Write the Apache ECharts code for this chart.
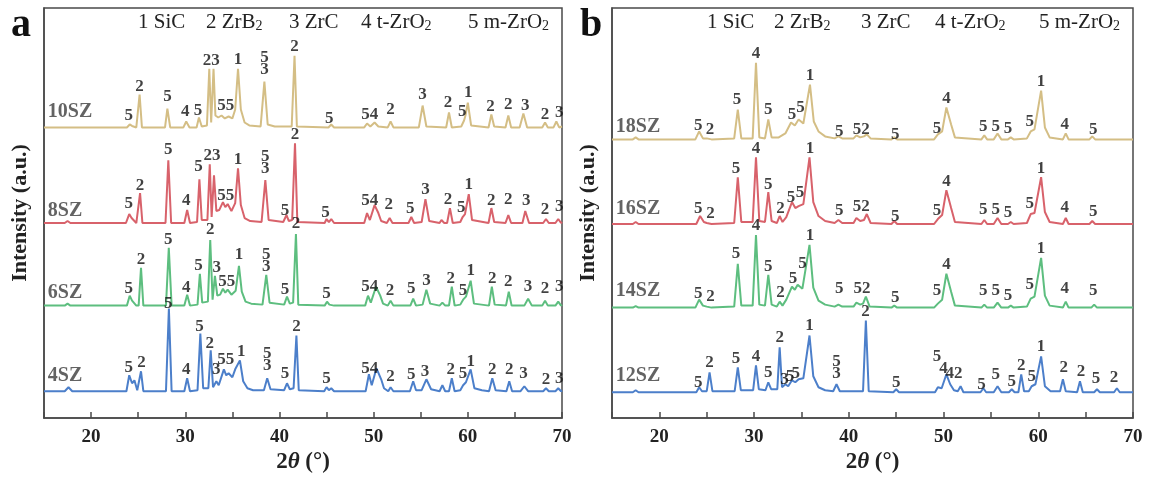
<!DOCTYPE html>
<html>
<head>
<meta charset="utf-8">
<script src="https://cdn.jsdelivr.net/npm/echarts/dist/echarts.min.js"></script>
<style>
  html, body { margin: 0; padding: 0; background: #fff; }
  #chart { width: 1150px; height: 479px; }
</style>
</head>
<body>
<div id="chart"></div>
<script>
// XRD patterns, [2theta, intensity above own baseline] (a.u.)
const xrd10SZ = [[15,0],[17.3,0],[17.5,1.5],[17.8,0],[23.8,0],[24.1,3],[24.35,1.5],[24.55,3],[24.8,0],[24.95,0],[25.15,33],[25.4,0],[27.85,0],[28.1,19],[28.4,0],[29.8,0],[30.1,6],[30.45,0],[31.2,0],[31.45,10],[31.75,1],[32.3,2],[32.55,59],[32.75,5],[33.0,59],[33.2,12],[33.5,10],[33.85,12],[34.2,9],[34.6,11],[35.0,9],[35.3,18],[35.6,59],[35.9,18],[36.3,5],[36.8,2],[38.0,1],[38.4,46],[38.75,3],[39.5,1],[41.3,1],[41.6,72],[41.85,1],[45.2,0],[45.5,3],[45.8,0],[49.0,0],[49.3,4],[49.65,1],[50.1,5],[50.5,1],[51.5,0],[51.8,6],[52.1,0],[54.8,0],[55.2,22],[55.6,1],[57.7,0],[58.0,15],[58.3,0],[59.3,1],[59.6,7],[59.75,12],[60.0,25],[60.35,2],[62.2,0],[62.5,13],[62.8,1],[64.0,0],[64.3,12],[64.6,0],[65.5,0],[65.9,14],[66.3,0],[67.9,0],[68.2,5],[68.5,0],[69.1,0],[69.4,6],[69.7,0],[70,1]];
const xrd8SZ = [[15,0],[17.2,0],[17.5,2],[17.8,0],[23.7,0],[24.05,9],[24.3,5],[24.5,6],[24.8,0],[25.0,0],[25.2,30],[25.45,0],[27.9,0],[28.2,63],[28.5,0],[29.9,0],[30.2,13],[30.5,0],[31.25,1],[31.5,44],[31.75,3],[32.35,3],[32.6,59],[32.8,6],[33.05,48],[33.3,12],[33.6,13],[34.0,21],[34.25,16],[34.5,19],[34.9,12],[35.3,20],[35.6,55],[35.9,18],[36.3,5],[36.9,2],[38.1,1],[38.5,43],[38.85,3],[40.4,1],[40.75,8],[41.0,2],[41.35,3],[41.65,80],[41.9,1],[44.8,0],[45.0,4],[45.25,1],[45.5,4],[45.8,0],[49.0,0],[49.3,10],[49.6,3],[50.1,18],[50.5,10],[50.8,2],[51.4,0],[51.7,5],[52.0,0],[53.7,0],[54.0,6],[54.3,0],[55.1,1],[55.5,24],[55.9,2],[57.0,0],[57.2,3],[57.5,0],[57.8,0],[58.1,15],[58.4,0],[59.2,1],[59.45,6],[59.7,9],[60.1,29],[60.45,3],[62.2,0],[62.5,15],[62.8,1],[64.0,0],[64.3,8],[64.6,0],[65.8,0],[66.1,12],[66.5,0],[68.0,0],[68.3,4],[68.6,0],[69.3,0],[69.6,4],[69.9,0],[70,1]];
const xrd6SZ = [[15,0],[17.2,0],[17.5,2],[17.8,0],[23.8,0],[24.1,10],[24.35,5],[24.5,6],[24.8,0],[25.05,0],[25.3,38],[25.55,0],[27.95,0],[28.25,58],[28.55,0],[29.9,0],[30.2,11],[30.5,0],[31.3,1],[31.55,32],[31.8,3],[32.4,4],[32.65,66],[32.9,6],[33.15,30],[33.4,10],[33.7,11],[34.0,17],[34.25,13],[34.5,16],[34.9,11],[35.35,15],[35.7,40],[36.0,14],[36.4,4],[37.0,2],[38.2,1],[38.6,31],[38.95,3],[40.5,1],[40.8,9],[41.1,2],[41.45,3],[41.75,72],[42.0,1],[44.8,0],[45.05,4],[45.3,1],[45.5,3],[45.8,0],[49.1,0],[49.4,10],[49.7,3],[50.25,19],[50.7,10],[51.0,2],[51.5,0],[51.8,5],[52.1,0],[53.9,0],[54.2,7],[54.5,0],[55.2,1],[55.6,16],[56.0,2],[57.0,0],[57.3,3],[57.6,0],[58.0,0],[58.3,19],[58.6,0],[59.2,1],[59.5,6],[59.8,9],[60.3,25],[60.65,2],[62.25,0],[62.55,19],[62.85,1],[64.05,0],[64.35,14],[64.65,0],[66.0,0],[66.4,7],[66.8,0],[67.9,0],[68.2,5],[68.5,0],[69.3,0],[69.6,4],[69.9,0],[70,1]];
const xrd4SZ = [[15,0],[17.2,0],[17.6,4],[18.0,0],[23.75,0],[24.05,16],[24.35,8],[24.6,11],[24.9,1],[25.05,1],[25.3,20],[25.55,0],[27.95,0],[28.26,83],[28.55,0],[29.9,0],[30.2,13],[30.5,0],[31.3,1],[31.6,58],[31.9,3],[32.45,3],[32.7,41],[32.95,4],[33.3,10],[33.55,6],[34.1,22],[34.35,16],[34.6,18],[35.0,14],[35.3,22],[35.8,31],[36.15,10],[36.6,3],[37.2,1],[38.35,1],[38.7,13],[39.05,2],[40.5,1],[40.8,8],[41.1,2],[41.5,3],[41.8,56],[42.05,1],[44.75,0],[45.0,4],[45.25,1],[45.5,3],[45.8,0],[49.15,0],[49.5,17],[49.8,6],[50.3,23],[50.8,12],[51.1,3],[51.55,0],[51.8,4],[52.1,0],[53.85,0],[54.2,10],[54.5,1],[55.1,1],[55.6,12],[56.1,2],[57.0,0],[57.3,6],[57.6,0],[58.0,0],[58.3,13],[58.6,0],[59.2,1],[59.5,6],[59.8,9],[60.3,22],[60.7,3],[61.5,1],[62.25,0],[62.6,13],[62.95,1],[64.1,0],[64.4,10],[64.7,0],[65.6,0],[66.0,5],[66.4,0],[68.0,0],[68.3,3],[68.6,0],[69.3,0],[69.6,3],[69.9,0],[70,1]];

const xrd18SZ = [[15,0],[17.2,0],[17.5,2],[17.8,0],[23.8,0],[24.2,8],[24.6,1],[25.0,1],[25.2,3],[25.5,0],[27.9,1],[28.28,30],[28.65,1],[29.85,1],[30.2,77],[30.55,2],[31.15,1],[31.5,20],[31.85,2],[32.6,2],[33.3,6],[33.9,17],[34.3,14],[34.7,20],[35.2,16],[35.9,55],[36.3,18],[36.8,8],[37.5,3],[38.5,1],[38.9,3],[39.3,1],[40.5,1],[40.8,4],[41.2,2],[41.6,3],[41.9,5],[42.3,1],[44.5,0],[44.8,2],[45.1,0],[49.0,0],[49.4,5],[49.85,8],[50.3,32],[50.8,15],[51.2,2],[54.0,0],[54.3,4],[54.6,0],[55.3,0],[55.7,6],[56.1,0],[56.8,0],[57.1,2],[57.4,0],[58.8,1],[59.2,8],[59.6,10],[60.3,49],[60.7,12],[61.2,2],[62.6,0],[62.9,6],[63.2,0],[65.4,0],[65.7,3],[66.0,0],[70,0]];
const xrd16SZ = [[15,0],[17.2,0],[17.5,2],[17.8,0],[23.9,0],[24.3,8],[24.7,2],[25.0,1],[25.2,3],[25.5,0],[27.9,1],[28.28,47],[28.65,2],[29.85,2],[30.2,67],[30.55,3],[31.15,2],[31.5,32],[31.85,3],[32.4,1],[32.7,8],[33.0,2],[33.4,7],[34.0,22],[34.35,16],[34.7,18],[35.2,20],[35.85,67],[36.25,22],[36.8,8],[37.5,3],[38.5,1],[38.9,4],[39.3,1],[40.5,1],[40.8,6],[41.2,3],[41.6,4],[41.9,10],[42.3,1],[44.5,0],[44.8,3],[45.1,0],[49.0,0],[49.4,5],[49.85,9],[50.3,34],[50.8,16],[51.2,2],[54.0,0],[54.3,4],[54.6,0],[55.3,0],[55.7,6],[56.1,0],[56.8,0],[57.1,2],[57.4,0],[58.8,1],[59.2,10],[59.6,11],[60.3,47],[60.7,12],[61.2,2],[62.6,0],[62.9,6],[63.2,0],[65.4,0],[65.7,3],[66.0,0],[70,0]];
const xrd14SZ = [[15,0],[17.2,0],[17.5,1.5],[17.8,0],[23.8,0],[24.2,8],[24.6,2],[25.0,1],[25.2,3],[25.5,0],[27.9,1],[28.28,44],[28.65,2],[29.85,2],[30.2,73],[30.55,3],[31.15,2],[31.5,33],[31.85,3],[32.4,1],[32.7,6],[33.0,2],[33.4,8],[34.0,21],[34.3,18],[34.6,23],[35.1,19],[35.85,63],[36.25,20],[36.8,7],[37.5,3],[38.5,1],[38.9,3],[39.3,1],[40.5,1],[40.8,5],[41.2,3],[41.5,4],[41.8,11],[42.2,1],[44.5,0],[44.8,2],[45.1,0],[49.0,0],[49.4,4],[49.85,8],[50.3,34],[50.8,16],[51.2,2],[54.0,0],[54.3,3],[54.6,0],[55.3,0],[55.7,5],[56.1,0],[56.8,0],[57.1,2],[57.4,0],[58.8,1],[59.2,9],[59.6,11],[60.3,50],[60.7,12],[61.2,2],[62.6,0],[62.9,6],[63.2,0],[65.6,0],[65.9,3],[66.2,0],[70,0]];
const xrd12SZ = [[15,0],[17.2,0],[17.5,2],[17.8,0],[23.9,0],[24.2,5],[24.5,1],[25.0,1],[25.3,20],[25.6,1],[27.95,1],[28.28,25],[28.6,2],[29.9,2],[30.2,27],[30.5,3],[31.2,2],[31.5,10],[31.8,3],[32.45,3],[32.7,45],[32.95,5],[33.3,8],[33.6,6],[34.0,12],[34.35,10],[34.7,13],[35.2,14],[35.85,57],[36.25,16],[36.8,5],[37.5,2],[38.35,1],[38.7,8],[39.05,1],[41.5,1],[41.8,72],[42.1,1],[44.7,0],[45.0,3],[45.3,0],[49.1,0],[49.4,5],[49.8,4],[50.3,18],[50.7,8],[51.1,2],[51.5,1],[51.8,6],[52.1,0],[53.9,0],[54.2,4],[54.5,0],[55.3,0],[55.7,6],[56.1,0],[56.9,0],[57.2,3],[57.5,0],[57.9,0],[58.2,18],[58.5,1],[59.0,1],[59.3,6],[59.7,8],[60.3,36],[60.7,6],[61.3,1],[62.3,1],[62.6,13],[62.9,1],[64.1,0],[64.4,11],[64.7,0],[65.9,0],[66.2,3],[66.5,0],[68.0,0],[68.3,4],[68.6,0],[70,0]];

// peak labels: [2theta, height above baseline, phase number]
const lab10SZ = [[24.0,12,'5'],[25.15,41,'2'],[28.1,31,'5'],[30.0,16,'4'],[31.35,17,'5'],[32.75,67,'23'],[34.3,22,'55'],[35.6,68,'1'],[38.4,64,'5\n3'],[41.6,81,'2'],[45.3,9,'5'],[49.6,13,'54'],[51.8,18,'2'],[55.2,33,'3'],[57.9,25,'2'],[59.4,16,'5'],[60.05,35,'1'],[62.4,21,'2'],[64.3,23,'2'],[66.1,22,'3'],[68.2,13,'2'],[69.7,15,'3']];
const lab8SZ = [[24.0,19,'5'],[25.2,38,'2'],[28.2,74,'5'],[30.1,22,'4'],[31.4,57,'5'],[32.85,68,'23'],[34.3,28,'55'],[35.6,64,'1'],[38.5,61,'5\n3'],[40.6,12,'5'],[41.65,89,'2'],[44.9,10,'5'],[49.6,22,'54'],[51.6,18,'2'],[53.9,14,'5'],[55.5,34,'3'],[57.9,24,'2'],[59.3,15,'5'],[60.1,39,'1'],[62.5,22,'2'],[64.3,24,'2'],[66.2,22,'3'],[68.2,13,'2'],[69.7,16,'3']];
const lab6SZ = [[24.0,17,'5'],[25.3,46,'2'],[28.2,66,'5'],[30.1,18,'4'],[31.4,40,'5'],[32.65,76,'2'],[33.35,38,'3'],[34.4,24,'55'],[35.7,51,'1'],[38.6,45,'5\n3'],[40.6,16,'5'],[41.75,82,'2'],[45.0,12,'5'],[49.6,19,'54'],[51.75,15,'2'],[54.0,17,'5'],[55.6,25,'3'],[58.2,27,'2'],[59.5,15,'5'],[60.3,35,'1'],[62.6,27,'2'],[64.3,24,'2'],[66.4,19,'3'],[68.2,17,'2'],[69.7,19,'3']];
const lab4SZ = [[24.0,24,'5'],[25.35,29,'2'],[28.2,88,'5'],[30.1,22,'4'],[31.5,65,'5'],[32.6,48,'2'],[33.3,22,'3'],[34.3,32,'55'],[35.95,40,'1'],[38.7,32,'5\n3'],[40.6,18,'5'],[41.8,65,'2'],[45.0,13,'5'],[49.6,23,'54'],[51.8,15,'2'],[54.0,17,'5'],[55.45,20,'3'],[58.2,22,'2'],[59.5,18,'5'],[60.3,30,'1'],[62.6,22,'2'],[64.4,22,'2'],[65.9,18,'3'],[68.3,12,'2'],[69.7,13,'3']];

const lab18SZ = [[24.1,14,'5'],[25.35,10,'2'],[28.2,40,'5'],[30.2,86,'4'],[31.5,30,'5'],[34.0,25,'5'],[34.9,32,'5'],[35.9,64,'1'],[39.0,8,'5'],[41.3,10,'52'],[44.9,5,'5'],[49.3,11,'5'],[50.3,41,'4'],[54.2,13,'5'],[55.5,13,'5'],[56.8,11,'5'],[59.1,18,'5'],[60.3,58,'1'],[62.8,15,'4'],[65.8,10,'5']];
const lab16SZ = [[24.1,15,'5'],[25.4,10,'2'],[28.1,56,'5'],[30.2,76,'4'],[31.5,40,'5'],[32.8,15,'2'],[33.9,27,'5'],[34.85,32,'5'],[35.9,76,'1'],[39.0,13,'5'],[41.3,17,'52'],[44.9,7,'5'],[49.3,13,'5'],[50.3,43,'4'],[54.2,14,'5'],[55.5,14,'5'],[56.8,11,'5'],[59.1,20,'5'],[60.3,56,'1'],[62.8,16,'4'],[65.8,12,'5']];
const lab14SZ = [[24.1,14,'5'],[25.4,11,'2'],[28.1,54,'5'],[30.2,82,'4'],[31.5,41,'5'],[32.8,15,'2'],[34.1,29,'5'],[35.1,44,'5'],[35.9,72,'1'],[39.0,19,'5'],[41.4,19,'52'],[44.9,10,'5'],[49.3,17,'5'],[50.3,43,'4'],[54.2,17,'5'],[55.5,17,'5'],[56.8,12,'5'],[59.1,23,'5'],[60.3,59,'1'],[62.8,19,'4'],[65.8,17,'5']];
const lab12SZ = [[24.1,10,'5'],[25.3,30,'2'],[28.1,34,'5'],[30.2,36,'4'],[31.5,20,'5'],[32.7,55,'2'],[33.2,13,'3'],[33.8,16,'5'],[34.4,19,'5'],[35.85,67,'1'],[38.7,25,'5\n3'],[41.75,81,'2'],[45.0,10,'5'],[49.3,36,'5'],[50.0,24,'4'],[51.1,19,'42'],[54.0,8,'5'],[55.5,18,'5'],[57.2,11,'5'],[58.2,27,'2'],[59.3,16,'5'],[60.3,46,'1'],[62.7,25,'2'],[64.5,21,'2'],[66.1,14,'5'],[68.0,15,'2']];

const samplesA = ['10SZ', '8SZ', '6SZ', '4SZ'];
const samplesB = ['18SZ', '16SZ', '14SZ', '12SZ'];
const offsetsA = [292, 196, 113, 27];
const offsetsB = [280, 195, 111, 26];
const sampleLabelY = [[16, 12, 13, 15], [13, 15, 17, 16]];
const phases = ['1 SiC', '2 ZrB', '3 ZrC', '4 t-ZrO', '5 m-ZrO'];

const colors = ['#D4BE85', '#D8626B', '#5DBE7F', '#4C7FCA'];
const serif = '"Liberation Serif", "Times New Roman", serif';

let myChart = echarts.init(document.getElementById('chart'));

function traceSeries(pts, off, color, idx) {
  return {
    type: 'line', xAxisIndex: idx, yAxisIndex: idx,
    data: pts.map(p => [p[0], p[1] + off]),
    showSymbol: false, symbol: 'none', silent: true,
    lineStyle: { color: color, width: 2 }
  };
}

function labelSeries(labs, off, idx) {
  return {
    type: 'scatter', xAxisIndex: idx, yAxisIndex: idx, symbolSize: 1, silent: true, z: 5,
    itemStyle: { color: 'transparent' },
    data: labs.map(l => ({ name: l[2], value: [l[0], l[1] + off] })),
    label: {
      show: true, position: 'inside', formatter: '{b}', color: '#111',
      fontFamily: serif, fontWeight: 'bold', fontSize: 17, lineHeight: 12
    }
  };
}

function nameSeries(names, offs, ys, idx) {
  return {
    type: 'scatter', xAxisIndex: idx, yAxisIndex: idx, symbolSize: 1, silent: true, z: 5,
    itemStyle: { color: 'transparent' },
    data: names.map((n, i) => ({ name: n, value: [15.4, offs[i] + ys[i]] })),
    label: {
      show: true, position: 'inside', align: 'left', formatter: '{b}', color: '#3c3c3c',
      fontFamily: serif, fontWeight: 'bold', fontSize: 20
    }
  };
}

function xAxisOpt(idx) {
  return {
    type: 'value', gridIndex: idx, min: 15, max: 70, interval: 5,
    name: '2{i|θ} (°)', nameLocation: 'middle', nameGap: 30,
    nameTextStyle: {
      fontFamily: serif, fontSize: 23, fontWeight: 'bold', color: '#222',
      rich: { i: { fontFamily: serif, fontSize: 23, fontStyle: 'italic', fontWeight: 'bold', color: '#222' } }
    },
    axisLine: { show: true, lineStyle: { color: '#4a4a4a', width: 1.5 } },
    axisTick: { show: true, inside: true, length: 6, lineStyle: { color: '#4a4a4a', width: 1.5 } },
    axisLabel: {
      margin: 9, fontFamily: serif, fontSize: 19, fontWeight: 'bold', color: '#222',
      formatter: v => (v % 10 === 0 ? String(v) : '')
    },
    splitLine: { show: false }
  };
}

function yAxisOpt(idx) {
  return {
    type: 'value', gridIndex: idx, min: 0, max: 412,
    name: 'Intensity (a.u.)', nameLocation: 'middle', nameGap: 13,
    nameTextStyle: { fontFamily: serif, fontSize: 22, fontWeight: 'bold', color: '#222' },
    axisLine: { show: true, lineStyle: { color: '#4a4a4a', width: 1.5 } },
    axisTick: { show: false }, axisLabel: { show: false }, splitLine: { show: false }
  };
}

function legendTexts(xs) {
  return phases.map((p, i) => ({
    type: 'text', left: xs[i], top: 12, silent: true,
    style: {
      text: i === 0 || i === 2 ? '{n|' + p + '}' : '{n|' + p + '}{s|2}',
      rich: {
        n: { fontFamily: serif, fontSize: 21, fill: '#222' },
        s: { fontFamily: serif, fontSize: 14, fill: '#222', padding: [8, 0, 0, 0] }
      }
    }
  }));
}

const series = [];
[xrd10SZ, xrd8SZ, xrd6SZ, xrd4SZ].forEach((d, i) => series.push(traceSeries(d, offsetsA[i], colors[i], 0)));
[xrd18SZ, xrd16SZ, xrd14SZ, xrd12SZ].forEach((d, i) => series.push(traceSeries(d, offsetsB[i], colors[i], 1)));
[lab10SZ, lab8SZ, lab6SZ, lab4SZ].forEach((l, i) => series.push(labelSeries(l, offsetsA[i], 0)));
[lab18SZ, lab16SZ, lab14SZ, lab12SZ].forEach((l, i) => series.push(labelSeries(l, offsetsB[i], 1)));
series.push(nameSeries(samplesA, offsetsA, sampleLabelY[0], 0));
series.push(nameSeries(samplesB, offsetsB, sampleLabelY[1], 1));

myChart.setOption({
  animation: false,
  backgroundColor: '#fff',
  grid: [
    { left: 44, right: 588, top: 8, bottom: 59, show: true, borderColor: '#4a4a4a', borderWidth: 1.5 },
    { left: 612, right: 17, top: 8, bottom: 59, show: true, borderColor: '#4a4a4a', borderWidth: 1.5 }
  ],
  xAxis: [xAxisOpt(0), xAxisOpt(1)],
  yAxis: [yAxisOpt(0), yAxisOpt(1)],
  graphic: [
    { type: 'text', left: 11, top: 6, silent: true,
      style: { text: 'a', fontFamily: serif, fontSize: 40, fontWeight: 'bold', fill: '#111' } },
    { type: 'text', left: 580, top: 6, silent: true,
      style: { text: 'b', fontFamily: serif, fontSize: 40, fontWeight: 'bold', fill: '#111' } }
  ].concat(legendTexts([138, 206, 289, 361, 468]), legendTexts([707, 774, 861, 935, 1039])),
  series: series
});
</script>
</body>
</html>
